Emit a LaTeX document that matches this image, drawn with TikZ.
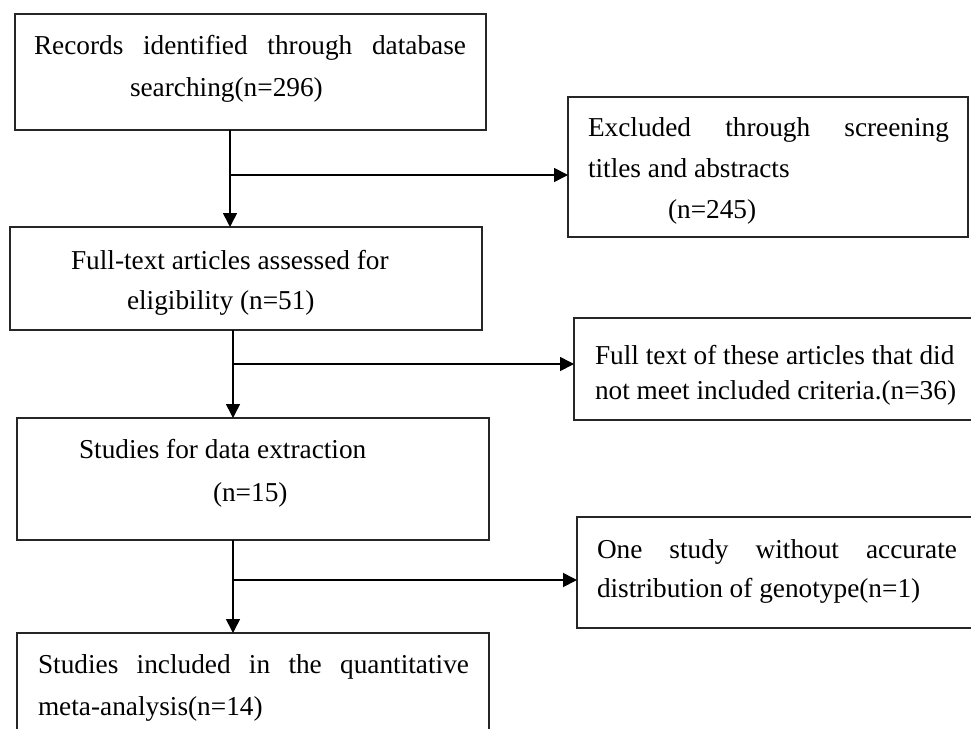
\documentclass[tikz,border=0pt]{standalone}
\usepackage{fontspec}
\setmainfont{Liberation Serif}
\usetikzlibrary{arrows.meta}
\begin{document}
\begin{tikzpicture}[x=1pt,y=-1pt,
  box/.style={draw=black!85,line width=1.6pt,inner sep=0pt,outer sep=0pt,anchor=north west},
  txt/.style={inner sep=0pt,outer sep=0pt,anchor=base west,font=\fontsize{27.3}{40}\selectfont},
  arr/.style={line width=1.6pt,-{Triangle[length=14pt,width=14pt]}}]
\useasboundingbox (0,0) rectangle (971,728);
\clip (0,0) rectangle (971,728);
% boxes
\node[box,minimum width=471pt,minimum height=116pt] (recs) at (15,14) {};
\node[box,minimum width=400pt,minimum height=140pt] (excl) at (568,97) {};
\node[box,minimum width=472pt,minimum height=103pt] (full) at (10,227) {};
\node[box,minimum width=420pt,minimum height=102pt] (notmeet) at (574,318) {};
\node[box,minimum width=472pt,minimum height=122pt] (extr) at (17,418) {};
\node[box,minimum width=420pt,minimum height=111pt] (geno) at (577,517) {};
\node[box,minimum width=472pt,minimum height=120pt] (incl) at (17,633) {};
% texts
\node[txt] (recs1) at (34,54) {\makebox[432pt][s]{Records identified through database}};
\node[txt] (recs2) at (130,96) {searching(n=296)};
\node[txt] (excl1) at (588,136) {\makebox[361pt][s]{Excluded through screening}};
\node[txt] (excl2) at (588,177) {titles and abstracts};
\node[txt] (excl3) at (668,218) {(n=245)};
\node[txt] (full1) at (71,269) {Full-text articles assessed for};
\node[txt] (full2) at (127,309) {eligibility (n=51)};
\node[txt] (nm1) at (595,364) {Full text of these articles that did};
\node[txt] (nm2) at (595,399) {not meet included criteria.(n=36)};
\node[txt] (extr1) at (79,458) {Studies for data extraction};
\node[txt] (extr2) at (213,501) {(n=15)};
\node[txt] (geno1) at (597,558) {\makebox[360pt][s]{One study without accurate}};
\node[txt] (geno2) at (597,597) {distribution of genotype(n=1)};
\node[txt] (incl1) at (38,673) {\makebox[431pt][s]{Studies included in the quantitative}};
\node[txt] (incl2) at (38,715) {meta-analysis(n=14)};
% connectors
\coordinate (j1) at (230,175);
\coordinate (j2) at (233,364);
\coordinate (j3) at (233,580);
\draw[arr] (j1 |- recs.south) -- (j1 |- full.north);
\draw[arr] (j1) -- (j1 -| excl.west);
\draw[arr] (j2 |- full.south) -- (j2 |- extr.north);
\draw[arr] (j2) -- (j2 -| notmeet.west);
\draw[arr] (j3 |- extr.south) -- (j3 |- incl.north);
\draw[arr] (j3) -- (j3 -| geno.west);
\end{tikzpicture}
\end{document}
